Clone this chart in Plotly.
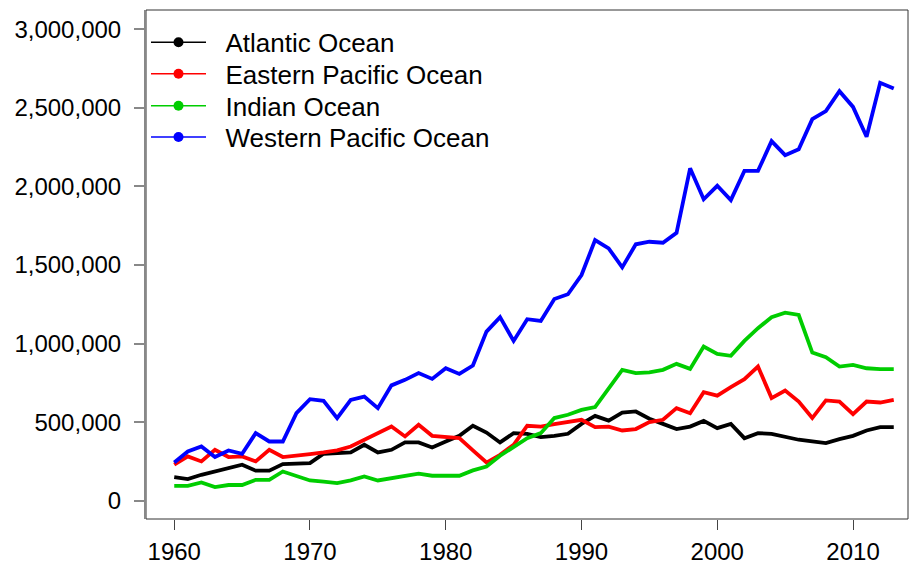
import plotly.graph_objects as go

# Annual totals by ocean basin, 1960-2013
years = list(range(1960, 2014))

atlantic = [150000, 138000, 165000, 186000, 203000, 229000, 191000, 191000, 233000, 239000,
            239000, 299000, 303000, 307000, 356000, 307000, 324000, 371000, 371000, 339000,
            377000, 413000, 477000, 434000, 371000, 430000, 426000, 405000, 413000, 426000,
            489000, 540000, 510000, 561000, 568000, 522000, 489000, 456000, 472000, 508000,
            462000, 489000, 398000, 430000, 426000, 405000, 388000, 377000, 367000, 392000,
            413000, 447000, 468000, 468000]

eastern_pacific = [229000, 282000, 250000, 324000, 278000, 282000, 250000, 324000, 278000, 290000,
                   297000, 307000, 320000, 345000, 388000, 430000, 472000, 409000, 483000, 413000,
                   405000, 398000, 320000, 243000, 292000, 356000, 477000, 472000, 487000, 498000,
                   515000, 468000, 472000, 447000, 456000, 500000, 515000, 589000, 557000, 691000,
                   669000, 723000, 773000, 854000, 653000, 701000, 631000, 526000, 638000, 631000,
                   551000, 631000, 625000, 642000]

indian = [95000, 95000, 116000, 87000, 100000, 100000, 133000, 133000, 186000, 159000,
          129000, 121000, 112000, 129000, 154000, 129000, 144000, 159000, 172000, 159000,
          159000, 159000, 193000, 218000, 286000, 345000, 398000, 430000, 526000, 547000,
          578000, 596000, 716000, 833000, 812000, 817000, 833000, 871000, 839000, 981000,
          934000, 922000, 1017000, 1098000, 1168000, 1197000, 1182000, 943000, 913000, 854000,
          864000, 843000, 837000, 837000]

western_pacific = [243000, 313000, 345000, 278000, 320000, 299000, 430000, 377000, 377000, 557000,
                   646000, 636000, 525000, 642000, 663000, 589000, 734000, 769000, 812000, 775000,
                   843000, 807000, 860000, 1076000, 1168000, 1017000, 1155000, 1144000, 1284000, 1314000,
                   1436000, 1659000, 1606000, 1485000, 1632000, 1648000, 1642000, 1705000, 2115000, 1918000,
                   2004000, 1913000, 2099000, 2099000, 2288000, 2199000, 2237000, 2428000, 2479000, 2606000,
                   2506000, 2316000, 2659000, 2623000]

series_names = ["Atlantic Ocean", "Eastern Pacific Ocean", "Indian Ocean", "Western Pacific Ocean"]
series_values = [atlantic, eastern_pacific, indian, western_pacific]
series_colors = ["#000000", "#FF0000", "#00CD00", "#0000FF"]

x_ticks = [1960, 1970, 1980, 1990, 2000, 2010]
y_ticks = [0, 500000, 1000000, 1500000, 2000000, 2500000, 3000000]

FONT = "Liberation Sans, Arial, sans-serif"

fig = go.Figure()

# data lines (no legend entries)
for name, vals, col in zip(series_names, series_values, series_colors):
    fig.add_trace(go.Scatter(x=years, y=vals, mode="lines", name=name,
                             line=dict(color=col, width=3.8), showlegend=False,
                             hoverinfo="x+y+name"))

# legend keys: line with a point marker, one legend per row so the rows can be spaced evenly
legend_ids = ["legend", "legend2", "legend3", "legend4"]
legend_rows = [0.9366, 0.8744, 0.8116, 0.7502]
for name, col, lid in zip(series_names, series_colors, legend_ids):
    fig.add_trace(go.Scatter(x=[None], y=[None], mode="lines+markers",
                             name="\u00a0\u00a0" + name,
                             line=dict(color=col, width=1.5),
                             marker=dict(color=col, size=10), legend=lid))

# plot frame
fig.add_shape(type="rect", xref="paper", yref="paper", x0=0, x1=1, y0=0, y1=1,
              line=dict(color="#333333", width=1), layer="below")

legend_style = dict(xanchor="left", yanchor="middle", bgcolor="rgba(0,0,0,0)", borderwidth=0,
                    font=dict(family=FONT, size=26, color="black"), itemwidth=55)
layout_legends = {lid: dict(x=0.0, y=yv, **legend_style) for lid, yv in zip(legend_ids, legend_rows)}

fig.update_layout(
    width=916, height=571,
    margin=dict(l=146, r=8, t=10, b=52),
    paper_bgcolor="white", plot_bgcolor="white",
    font=dict(family=FONT, size=24, color="black"),
    showlegend=True,
    xaxis=dict(range=[1957.92, 2014.05], tickvals=x_ticks, ticktext=[str(v) for v in x_ticks],
               showgrid=False, zeroline=False, showline=False, automargin=False,
               ticks="outside", ticklen=10, tickcolor="#444444", tickwidth=1,
               ticklabelstandoff=1,
               tickfont=dict(family=FONT, size=24, color="black")),
    yaxis=dict(range=[-116300, 3122700], tickvals=y_ticks, tickformat=",d",
               showgrid=False, zeroline=False, showline=True, linecolor="#888888", linewidth=2,
               automargin=False,
               ticks="outside", ticklen=10, tickcolor="#888888", tickwidth=2,
               ticklabelstandoff=8,
               tickfont=dict(family=FONT, size=24, color="black")),
    **layout_legends,
)

fig.write_html("out.html")
